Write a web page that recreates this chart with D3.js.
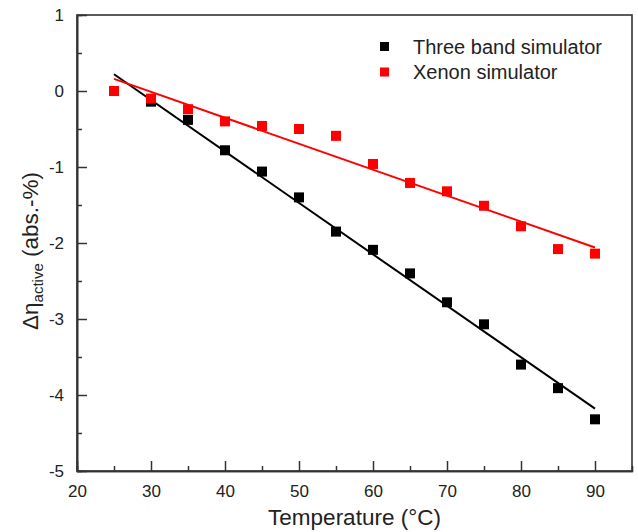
<!DOCTYPE html>
<html><head><meta charset="utf-8">
<script src="https://cdn.jsdelivr.net/npm/d3@7/dist/d3.min.js"></script>
<style>body{margin:0;background:#fff}svg{display:block}text{font-family:Arial,"Liberation Sans",sans-serif}</style>
</head><body>
<svg id="c" width="638" height="532"></svg>
<script>
const temps = [25, 30, 35, 40, 45, 50, 55, 60, 65, 70, 75, 80, 85, 90];
const threeBand = [null, -0.14, -0.38, -0.78, -1.06, -1.40, -1.85, -2.09, -2.40, -2.78, -3.07, -3.60, -3.91, -4.32];
const xenon = [0.00, -0.10, -0.24, -0.40, -0.46, -0.50, -0.59, -0.96, -1.21, -1.32, -1.51, -1.78, -2.08, -2.14];
const fitX = [25, 90];
const threeBandFit = [0.22, -4.18];
const xenonFit = [0.16, -2.06];
const xTicks = [20, 30, 40, 50, 60, 70, 80, 90];
const yTicks = [1, 0, -1, -2, -3, -4, -5];
const seriesNames = ["Three band simulator", "Xenon simulator"];
const colors = ["#000000", "#ff0000"];

const svg = d3.select("#c");
const L = 77, R = 632, T = 15, B = 471;
const x = d3.scaleLinear().domain([20, 95]).range([L, R]);
const y = d3.scaleLinear().domain([-5, 1]).range([B, T]);

// frame
svg.append("rect").attr("x", L).attr("y", T).attr("width", R - L).attr("height", B - T)
  .attr("fill", "none").attr("stroke", "#333").attr("stroke-width", 1.6);

// axes
const xAxis = d3.axisBottom(x).tickValues(xTicks).tickSizeInner(-10).tickSizeOuter(0).tickPadding(12).tickFormat(d3.format("d"));
const gx = svg.append("g").attr("transform", `translate(0,${B})`).call(xAxis);
const xMinor = d3.axisBottom(x).tickValues(d3.range(25, 95, 10)).tickSize(-5).tickFormat("");
const gxm = svg.append("g").attr("transform", `translate(0,${B})`).call(xMinor);
const yAxis = d3.axisLeft(y).tickValues(yTicks).tickSizeInner(-10).tickSizeOuter(0).tickPadding(13).tickFormat(d3.format("d"));
const gy = svg.append("g").attr("transform", `translate(${L},0)`).call(yAxis);
const yMinor = d3.axisLeft(y).tickValues([0.5, -0.5, -1.5, -2.5, -3.5, -4.5]).tickSize(-5).tickFormat("");
const gym = svg.append("g").attr("transform", `translate(${L},0)`).call(yMinor);
[gx, gxm, gy, gym].forEach(g => {
  g.select(".domain").attr("stroke", "#333").attr("stroke-width", 1.6);
  g.selectAll(".tick line").attr("stroke", "#333").attr("stroke-width", 1.5);
  g.selectAll(".tick text").attr("font-size", 17).attr("fill", "#222")
    .style("font-family", "Arial, 'Liberation Sans', sans-serif");
});
gx.selectAll(".tick text").attr("dy", "0.85em");
gy.selectAll(".tick text").text(d => d < 0 ? "-" + Math.abs(d) : d);

// fit lines
const line = d3.line().x(d => x(d[0])).y(d => y(d[1]));
svg.append("path").datum(fitX.map((t, i) => [t, threeBandFit[i]]))
  .attr("d", line).attr("stroke", colors[0]).attr("stroke-width", 2).attr("fill", "none");
svg.append("path").datum(fitX.map((t, i) => [t, xenonFit[i]]))
  .attr("d", line).attr("stroke", colors[1]).attr("stroke-width", 2).attr("fill", "none");

// points
const s = 10;
[threeBand, xenon].forEach((vals, k) => {
  svg.append("g").selectAll("rect")
    .data(temps.map((t, i) => [t, vals[i]]).filter(d => d[1] !== null))
    .join("rect")
    .attr("x", d => x(d[0]) - s / 2).attr("y", d => y(d[1]) - s / 2)
    .attr("width", s).attr("height", s).attr("fill", colors[k]);
});

// legend
seriesNames.forEach((n, i) => {
  const ly = 46.5 + i * 25.5;
  svg.append("rect").attr("x", 380).attr("y", ly - 4.5).attr("width", 9).attr("height", 9).attr("fill", colors[i]);
  svg.append("text").attr("x", 413).attr("y", ly).attr("dy", "0.35em")
    .attr("font-size", 20).attr("fill", "#222").text(n);
});

// axis titles
svg.append("text").attr("x", (L + R) / 2).attr("y", 525).attr("text-anchor", "middle")
  .attr("font-size", 22.5).attr("fill", "#222").text("Temperature (°C)");
const yt = svg.append("text").attr("transform", `translate(38,${(T + B) / 2 + 8}) rotate(-90)`)
  .attr("text-anchor", "middle").attr("font-size", 22.5).attr("fill", "#222");
yt.append("tspan").text("Δη");
yt.append("tspan").attr("font-size", 15).attr("dy", 5).text("active");
yt.append("tspan").attr("dy", -5).text(" (abs.-%)");
</script>
</body></html>
